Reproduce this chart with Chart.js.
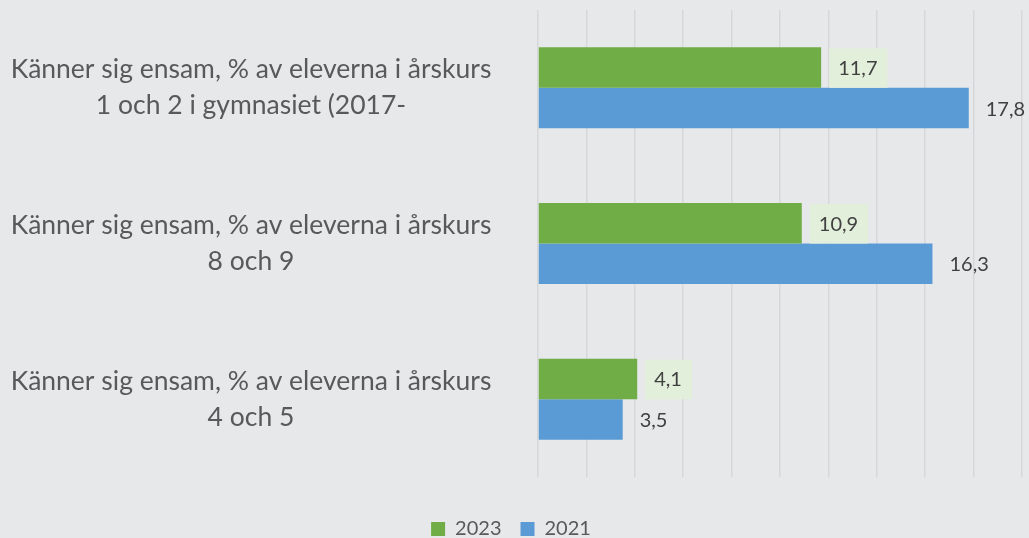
<!DOCTYPE html>
<html>
<head>
<meta charset="utf-8">
<script src="https://cdn.jsdelivr.net/npm/chart.js@4.4.1/dist/chart.umd.min.js"></script>
<style>
  html, body { margin: 0; padding: 0; background: #e7e8ea; }
  #wrap { width: 1029px; height: 538px; position: relative; }
</style>
</head>
<body>
<div id="wrap"><canvas id="chart"></canvas></div>
<script>
// Ensamhet bland elever - grouped horizontal bars (2023 vs 2021)
const CATEGORIES = [
  ['Känner sig ensam, % av eleverna i årskurs', '1 och 2 i gymnasiet (2017-'],
  ['Känner sig ensam, % av eleverna i årskurs', '8 och 9'],
  ['Känner sig ensam, % av eleverna i årskurs', '4 och 5']
];
const SERIES_NAMES = ['2023', '2021'];
const VALUES_2023 = [11.7, 10.9, 4.1];
const VALUES_2021 = [17.8, 16.3, 3.5];
const X_MIN = 0, X_MAX = 20, X_STEP = 2;

const FONT = 'Lato';
const CAT_SIZE = 26.5;
const LABEL_CENTER_X = 259; // tuned so the category text sits centred near x=252
const PLOT_LEFT = 538;

// measure widest category line to place the centred tick labels
const mctx = document.createElement('canvas').getContext('2d');
mctx.font = `${CAT_SIZE}px ${FONT}`;
const widest = Math.max(...CATEGORIES.flat().map(t => mctx.measureText(t).width));
const tickPad = PLOT_LEFT - LABEL_CENTER_X - widest / 2;

const fmt = v => v.toFixed(1).replace('.', ',');

// value labels at bar ends, the 2023 ones on a pale green box
const valueLabels = {
  id: 'valueLabels',
  afterDatasetsDraw(chart) {
    const ctx = chart.ctx;
    ctx.save();
    ctx.font = `20px ${FONT}`;
    ctx.textBaseline = 'middle';
    chart.data.datasets.forEach((ds, di) => {
      chart.getDatasetMeta(di).data.forEach((bar, i) => {
        const txt = fmt(ds.data[i]);
        const w = ctx.measureText(txt).width;
        const h = bar.height;
        if (di === 0) {
          ctx.fillStyle = '#e2efda';
          ctx.fillRect(bar.x + 8, bar.y - h / 2 + 1, w + 19, h - 1);
        }
        ctx.fillStyle = '#404040';
        ctx.fillText(txt, bar.x + 17, bar.y + 1);
      });
    });
    ctx.restore();
  }
};

// push the legend row down towards the bottom edge
const legendShift = {
  id: 'legendShift',
  afterLayout(chart) {
    const lg = chart.legend;
    if (!lg) return;
    const dy = 529 - (lg.top + 19 + 10);
    lg.top += dy; lg.bottom += dy;
    if (lg.legendHitBoxes) lg.legendHitBoxes.forEach(b => { b.top += dy; });
  }
};

new Chart(document.getElementById('chart'), {
  type: 'bar',
  data: {
    labels: CATEGORIES,
    datasets: [
      { label: SERIES_NAMES[0], data: VALUES_2023, backgroundColor: '#70ad47' },
      { label: SERIES_NAMES[1], data: VALUES_2021, backgroundColor: '#5b9bd5' }
    ]
  },
  options: {
    indexAxis: 'y',
    responsive: true,
    maintainAspectRatio: false,
    animation: false,
    categoryPercentage: 0.52,
    barPercentage: 1.0,
    layout: { padding: { top: 10, right: 7, left: 0, bottom: 0 } },
    plugins: {
      legend: {
        position: 'bottom',
        labels: { boxWidth: 14, boxHeight: 14, padding: 19, color: '#595959', font: { family: FONT, size: 20 } }
      },
      tooltip: { enabled: false }
    },
    scales: {
      x: {
        min: X_MIN, max: X_MAX,
        ticks: { stepSize: X_STEP, display: false },
        grid: { color: '#d6d7d9', lineWidth: 1.5, drawTicks: false },
        border: { display: false },
        afterFit: s => { s.height = 12; }
      },
      y: {
        grid: { display: false },
        border: { display: false },
        ticks: {
          crossAlign: 'center',
          padding: tickPad,
          color: '#595959',
          font: { family: FONT, size: CAT_SIZE, lineHeight: 1.36 }
        },
        afterFit: s => { s.width = PLOT_LEFT; s.paddingTop = 0; s.paddingBottom = 0; }
      }
    }
  },
  plugins: [valueLabels, legendShift]
});
</script>
</body>
</html>
